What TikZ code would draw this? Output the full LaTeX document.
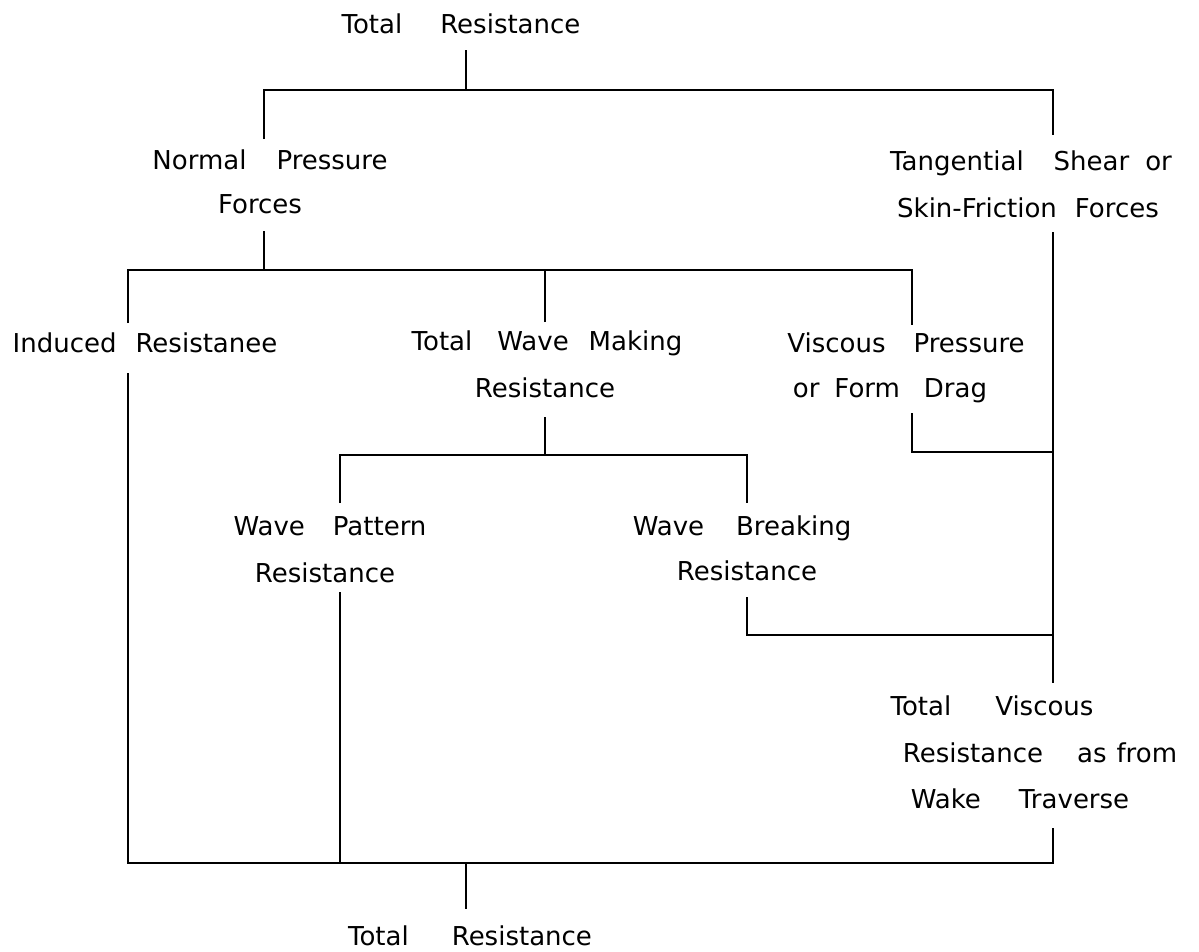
\documentclass[tikz,border=0pt]{standalone}
\usepackage{fontspec}
\setmainfont{DejaVu Sans}
\newcommand\wg[1]{\hspace{#1pt}}
\begin{document}
\begin{tikzpicture}[x=1pt,y=-1pt,
  lbl/.style={inner sep=0pt, anchor=base, font=\fontsize{26}{30}\selectfont},
  conn/.style={line width=2.8pt, draw=black}]
\useasboundingbox (0,0) rectangle (1199,951);
% texts
\node[lbl] (top)  at (461,33)  {Total\wg{38}Resistance};
\node[lbl] (np1)  at (270,169) {Normal\wg{30}Pressure};
\node[lbl] (np2)  at (260,213) {Forces};
\node[lbl] (ts1)  at (1031,170) {Tangential\wg{30}Shear\wg{16}or};
\node[lbl] (ts2)  at (1028,217) {Skin-Friction\wg{18}Forces};
\node[lbl] (ir)   at (145,352) {Induced\wg{19}Resistanee};
\node[lbl] (tw1)  at (547,350) {Total\wg{25}Wave\wg{20}Making};
\node[lbl] (tw2)  at (545,397) {Resistance};
\node[lbl] (vp1)  at (906,352) {Viscous\wg{28}Pressure};
\node[lbl] (vp2)  at (890,397) {or\wg{15}Form\wg{24}Drag};
\node[lbl] (wp1)  at (330,535) {Wave\wg{28}Pattern};
\node[lbl] (wp2)  at (325,582) {Resistance};
\node[lbl] (wb1)  at (742,535) {Wave\wg{32}Breaking};
\node[lbl] (wb2)  at (747,580) {Resistance};
\node[lbl] (tv1)  at (992,715) {Total\wg{44}Viscous};
\node[lbl] (tv2)  at (1040,762) {Resistance\wg{34}as\wg{10}from};
\node[lbl] (tv3)  at (1020,808) {Wake\wg{38}Traverse};
\node[lbl] (bot)  at (470,945) {Total\wg{43}Resistance};
% connector ends and junctions
\coordinate (a1) at (466,50);
\coordinate (a2) at (466,90);
\coordinate (npT) at (264,139);
\coordinate (tsT) at (1053,135);
\coordinate (npB) at (264,231);
\coordinate (b2) at (264,270);
\coordinate (irT) at (128,323);
\coordinate (twT) at (545,322);
\coordinate (vpT) at (912,325);
\coordinate (twB) at (545,417);
\coordinate (c2) at (545,455);
\coordinate (wpT) at (340,503);
\coordinate (wbT) at (747,503);
\coordinate (sfB) at (1053,232);
\coordinate (tvT) at (1053,683);
\coordinate (vpB) at (912,413);
\coordinate (d1) at (1053,452);
\coordinate (wbB) at (747,597);
\coordinate (d2) at (1053,635);
\coordinate (irB) at (128,373);
\coordinate (wpB) at (340,592);
\coordinate (tvB) at (1053,828);
\coordinate (e2) at (466,863);
\coordinate (brT) at (466,909);
% connectors
\draw[conn] (a1) -- (a2);
\draw[conn] (npT) |- (a2) -| (tsT);
\draw[conn] (npB) -- (b2);
\draw[conn] (irT) |- (b2) -| (vpT);
\draw[conn] (twT) -- (twT |- b2);
\draw[conn] (twB) -- (c2);
\draw[conn] (wpT) |- (c2) -| (wbT);
\draw[conn] (sfB) -- (tvT);
\draw[conn] (vpB) |- (d1);
\draw[conn] (wbB) |- (d2);
\draw[conn] (irB) |- (e2) -| (tvB);
\draw[conn] (wpB) -- (wpB |- e2);
\draw[conn] (e2) -- (brT);
\end{tikzpicture}
\end{document}
